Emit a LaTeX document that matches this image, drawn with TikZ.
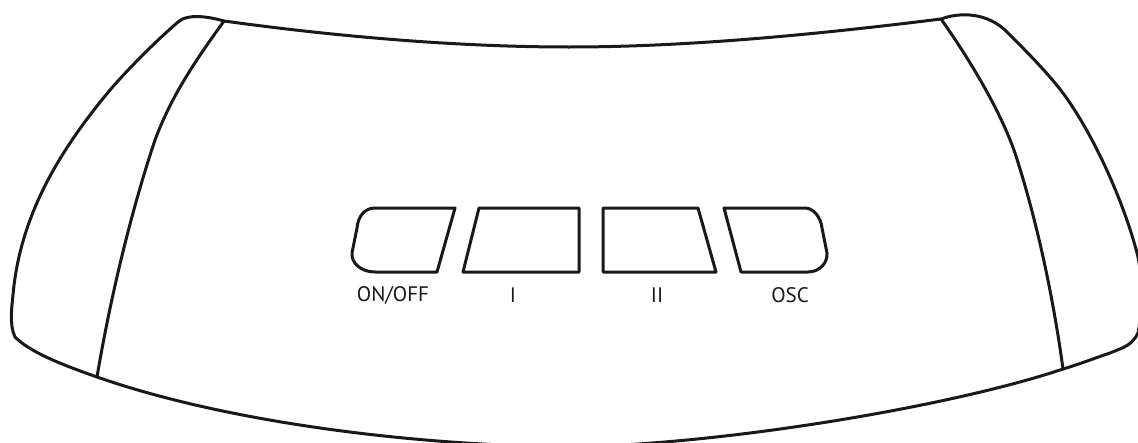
\documentclass[tikz,border=0pt]{standalone}
\usepackage{fontspec}
\setmainfont{PT Sans}
\tikzset{
  outline/.style={draw=black!90, line width=3pt, line join=round},
  btnlabel/.style={inner sep=0pt, text=black!90, font=\fontsize{21}{24}\selectfont},
}

\begin{document}
\begin{tikzpicture}[x=1pt, y=-1pt]
    \useasboundingbox (0,0) rectangle (1138,442);
    \clip (0,0) rectangle (1138,442);

    \coordinate (tl) at (224,21);
    \coordinate (tr) at (941,19);
    \coordinate (bl) at (97,377);
    \coordinate (br) at (1063,369);

    % body
    \draw[outline] (tl) .. controls (340,37) and (460,47) .. (569,47)
      .. controls (690,47) and (820,34) .. (tr)
      .. controls (960,12) and (988,12) .. (1008,33)
      .. controls (1022,47) and (1040,65) .. (1055,83)
      .. controls (1088,122) and (1124,200) .. (1138,257)
      .. controls (1142,275) and (1142,315) .. (1138,333)
      .. controls (1132,345) and (1125,347) .. (1110,353)
      .. controls (1095,358) and (1080,364) .. (br)
      .. controls (950,407) and (720,445) .. (569,447)
      .. controls (400,445) and (220,420) .. (bl)
      .. controls (60,364) and (30,352) .. (15,337)
      .. controls (9,325) and (12,305) .. (13,295)
      .. controls (20,215) and (60,150) .. (110,90)
      .. controls (130,67) and (155,42) .. (178,22)
      .. controls (188,13) and (210,17) .. (tl) -- cycle;

    % side panels
    \draw[outline] (tl) .. controls (190,68) and (170,100) .. (155,140)
      .. controls (130,215) and (110,300) .. (bl);
    \draw[outline] (tr) .. controls (970,60) and (1000,110) .. (1015,153)
      .. controls (1040,230) and (1055,310) .. (br);

    % buttons
    \draw[outline] (455,208) -- (437,272) -- (375,272)
      .. controls (360,272) and (351,262) .. (352,253) -- (357,228)
      .. controls (358,216) and (365,208) .. (375,208) -- cycle;
    \draw[outline] (479,208) -- (579,208) -- (579,272) -- (463,272) -- cycle;
    \draw[outline] (603,208) -- (698,208) -- (716,272) -- (603,272) -- cycle;
    \draw[outline] (724,208) -- (805,208)
      .. controls (814,208) and (821,218) .. (822,228) -- (827,253)
      .. controls (828,262) and (820,272) .. (808,272) -- (741,272) -- cycle;

    \node[btnlabel] (onoff) at (393,295) {ON/OFF};
    \node[btnlabel] (one) at (513,295) {I};
    \node[btnlabel] (two) at (657,295) {II};
    \node[btnlabel] (osc) at (790,295) {OSC};
\end{tikzpicture}
\end{document}
